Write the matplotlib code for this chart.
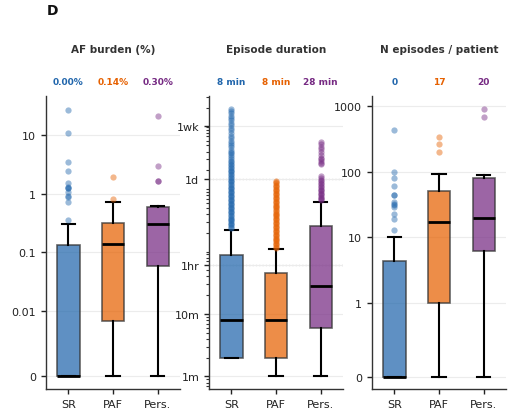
import numpy as np
import matplotlib
matplotlib.use("Agg")
from matplotlib import pyplot as plt
from matplotlib.colors import to_rgba
from matplotlib.ticker import FixedLocator, LogLocator, NullLocator, NullFormatter

groups = ["SR", "PAF", "Pers."]
colors = ["#2166ac", "#e66101", "#762a83"]

# AF burden (%), per group
burden_q1 = [0.0, 0.0084, 0.058]
burden_med = [0.0, 0.14, 0.30]
burden_q3 = [0.133, 0.324, 0.59]
burden_lo = [0.0, 0.0, 0.0]
burden_hi = [0.31, 0.74, 0.63]
burden_fliers = [
    [27.3, 10.8, 3.45, 2.47, 1.54, 1.3, 1.28, 1.25, 1.08, 0.92, 0.9, 0.74, 0.365],
    [1.95, 0.82],
    [21.8, 2.95, 1.69, 1.69],
]

# episode duration (minutes)
dur_q1 = [2.0, 2.0, 6.0]
dur_med = [8.0, 8.0, 28.0]
dur_q3 = [89.0, 45.0, 254.0]
dur_lo = [2.0, 1.0, 1.0]
dur_hi = [225.0, 111.0, 628.0]
dur_fliers = [
    [240, 250, 262, 275, 290, 305, 320, 335, 350, 370, 390, 410, 430, 450,
     475, 500, 525, 550, 580, 610, 640, 670, 700, 740, 780, 820, 860, 900,
     950, 1000, 1050, 1100, 1160, 1220, 1280, 1350, 1420, 1500, 1580, 1660,
     1750, 1850, 1950, 2050, 2150, 2280, 2400, 2550, 2700, 2850, 3000,
     3250, 3500, 3750, 4000, 4300, 4700, 5100, 5500, 6000, 6600, 7200,
     7900, 8700, 9500, 10500, 11500, 12600, 13800, 15000, 16500, 18000, 19000],
    [115, 120, 126, 132, 138, 145, 152, 160, 168, 176, 185, 194, 204, 214,
     225, 236, 248, 260, 273, 287, 300, 316, 332, 348, 365, 383, 402, 422,
     443, 465, 490, 515, 540, 567, 595, 625, 656, 690, 725, 760, 800, 840,
     880, 925, 970, 1020, 1070, 1120, 1180, 1240, 1300, 1360],
    [660, 690, 720, 760, 800, 840, 880, 920, 970, 1020, 1080, 1140, 1200,
     1270, 1350, 1420, 1500, 1600, 2500, 2650, 2800, 3000, 3200, 3500,
     4000, 4400, 4800, 5200, 5600],
]

# number of episodes per patient
neps_q1 = [0.0, 1.0, 6.2]
neps_med = [0.0, 17.0, 20.0]
neps_q3 = [4.44, 51.0, 80.0]
neps_lo = [0.0, 0.0, 0.0]
neps_hi = [10.0, 91.0, 90.0]
neps_fliers = [
    [430, 100, 79, 60, 44, 44, 35, 32, 31, 29, 23, 19, 13],
    [335, 258, 195],
    [875, 668],
]

W, H = 509, 414
fig = plt.figure(figsize=(W / 100, H / 100), dpi=100)

lefts = [46, 209, 372]
axes = [fig.add_axes([l / W, 24 / H, 134 / W, 293 / H]) for l in lefts]


def make_stats(q1, med, q3, lo, hi, fl):
    out = []
    for i in range(len(groups)):
        out.append(dict(q1=q1[i], med=med[i], q3=q3[i], whislo=lo[i],
                        whishi=hi[i], fliers=np.array(fl[i], dtype=float),
                        label=groups[i]))
    return out


def draw_panel(ax, stats, title, labels):
    bp = ax.bxp(stats, positions=[0, 1, 2], widths=0.5, capwidths=0.3,
                patch_artist=True, showfliers=True,
                medianprops=dict(color="black", lw=2),
                whiskerprops=dict(color="black", lw=1.5),
                capprops=dict(color="black", lw=1.5),
                boxprops=dict(edgecolor=to_rgba("#333333", 0.75), lw=1.2),
                flierprops=dict(marker="o", markersize=4.5, markeredgewidth=0))
    for patch, c in zip(bp["boxes"], colors):
        patch.set_facecolor(to_rgba(c, 0.72))
    for fl, c in zip(bp["fliers"], colors):
        fl.set_markerfacecolor(to_rgba(c, 0.45))
        fl.set_markeredgecolor("none")
    ax.set_xlim(-0.5, 2.5)
    ax.set_xticks([0, 1, 2])
    ax.set_xticklabels(groups)
    for s in ["top", "right"]:
        ax.spines[s].set_visible(False)
    for s in ["left", "bottom"]:
        ax.spines[s].set_color("#333333")
        ax.spines[s].set_linewidth(1.0)
    ax.tick_params(labelsize=8, colors="#222222", length=3.5, width=1)
    ax.yaxis.grid(True, color="#ececec", lw=0.8)
    ax.set_axisbelow(True)
    ax.text(0.5, 1.16, title, transform=ax.transAxes, ha="center",
            va="center", fontsize=7.5, fontweight="bold", color="#333333")
    for i, (lab, c) in enumerate(zip(labels, colors)):
        ax.text(i, 1.048, lab, transform=ax.get_xaxis_transform(),
                ha="center", va="center", fontsize=6.5, fontweight="bold",
                color=c)


# AF burden
ax = axes[0]
ax.set_yscale("symlog", linthresh=0.01, linscale=1)
draw_panel(ax, make_stats(burden_q1, burden_med, burden_q3, burden_lo,
                          burden_hi, burden_fliers),
           "AF burden (%)", [f"{m:.2f}%" for m in burden_med])
ax.set_ylim(-0.002, 47)
ax.yaxis.set_major_locator(FixedLocator([0, 0.01, 0.1, 1, 10]))
ax.set_yticklabels(["0", "0.01", "0.1", "1", "10"])
ax.yaxis.set_minor_locator(NullLocator())

# episode duration
ax = axes[1]
ax.set_yscale("log")
draw_panel(ax, make_stats(dur_q1, dur_med, dur_q3, dur_lo, dur_hi,
                          dur_fliers),
           "Episode duration", [f"{m:.0f} min" for m in dur_med])
ax.set_ylim(0.63, 31000)
ax.yaxis.set_major_locator(FixedLocator([1, 10, 60, 1440, 10080]))
ax.set_yticklabels(["1m", "10m", "1hr", "1d", "1wk"])
ax.yaxis.set_minor_locator(LogLocator(base=10, subs=np.arange(1, 10)))
ax.yaxis.set_minor_formatter(NullFormatter())
ax.tick_params(which="minor", length=2, width=0.8, colors="#333333")
for v in [60, 1440]:
    ax.axhline(v, ls=":", color="#aaaaaa", lw=0.9, zorder=0.5)

# episodes per patient
ax = axes[2]
ax.set_yscale("symlog", linthresh=1, linscale=1)
draw_panel(ax, make_stats(neps_q1, neps_med, neps_q3, neps_lo, neps_hi,
                          neps_fliers),
           "N episodes / patient", [f"{m:.0f}" for m in neps_med])
ax.set_ylim(-0.17, 1400)
ax.yaxis.set_major_locator(FixedLocator([0, 1, 10, 100, 1000]))
ax.set_yticklabels(["0", "1", "10", "100", "1000"])
ax.yaxis.set_minor_locator(NullLocator())

fig.text(46.5 / W, 1 - 11 / H, "D", ha="left", va="center", fontsize=10,
         fontweight="bold", color="#111111")

fig.savefig("out.png", dpi=100)
